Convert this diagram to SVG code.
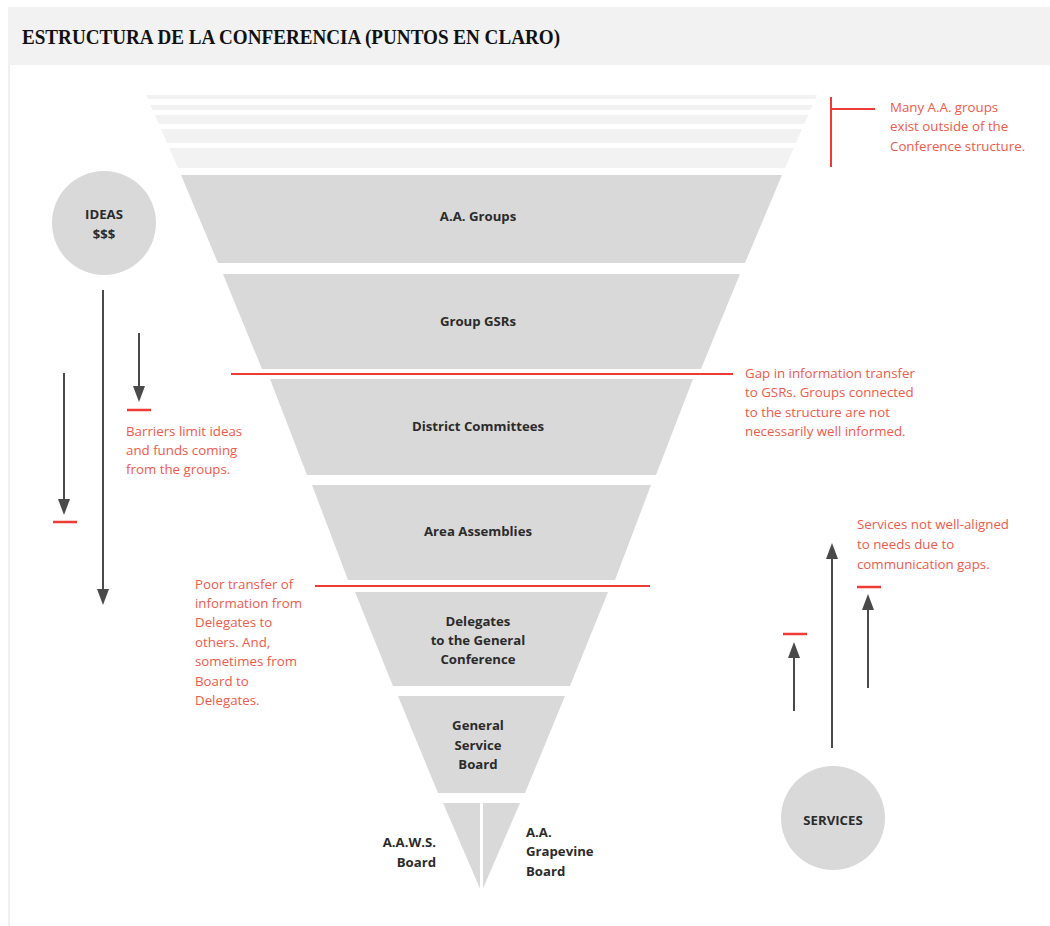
<svg xmlns="http://www.w3.org/2000/svg" width="1050" height="926" viewBox="0 0 1050 926">
<style>
.band{fill:#d9d9d9}
.stripe{fill:#f2f2f2}
.lbl{font-family:"Open Sans","Noto Sans","Liberation Sans",sans-serif;font-weight:bold;font-size:13.2px;fill:#2b2b2b;text-anchor:middle}
.note{font-family:"Open Sans","Noto Sans","Liberation Sans",sans-serif;font-size:13.3px;fill:#f15a4a}
.red{stroke:#ee3b33;stroke-width:2;fill:none}
.dash{stroke:#ee3b33;stroke-width:2.5;fill:none}
.arr{stroke:#4a4a4a;stroke-width:2;fill:none;marker-end:url(#ah)}
</style>
<defs>
<marker id="ah" viewBox="0 0 16 12" markerWidth="16" markerHeight="12" refX="6" refY="6" orient="auto" markerUnits="userSpaceOnUse">
<path d="M0,0 L16,6 L0,12 z" fill="#4a4a4a"/>
</marker>
</defs>
<rect width="1050" height="926" fill="#ffffff"/>
<rect x="8" y="7" width="1042" height="58" fill="#f2f2f2"/>
<rect x="8" y="65" width="2" height="861" fill="#f0f0f0"/>
<text x="22" y="44" font-family="'Liberation Serif',serif" font-weight="bold" font-size="20" fill="#111" textLength="538" lengthAdjust="spacingAndGlyphs">ESTRUCTURA DE LA CONFERENCIA (PUNTOS EN CLARO)</text>

<g id="outside-stripes">
<polygon class="stripe" points="146,95 817,95 815.2,99 147.8,99"/>
<polygon class="stripe" points="150.4,105 812.6,105 810.4,110 152.6,110"/>
<polygon class="stripe" points="154.8,115 808.2,115 804.2,124 158.8,124"/>
<polygon class="stripe" points="161,129 802,129 796,143 167,143"/>
<polygon class="stripe" points="169.3,148 793.7,148 785,168 178,168"/>
</g>

<g id="aa-groups">
<polygon class="band" points="181,175 782,175 745,263 218,263"/>
<text class="lbl" x="478" y="221">A.A. Groups</text>
</g>
<g id="group-gsrs">
<polygon class="band" points="223,274 740,274 701,369 262,369"/>
<text class="lbl" x="478" y="326">Group GSRs</text>
</g>
<g id="district-committees">
<polygon class="band" points="270,379 693,379 656,475 307,475"/>
<text class="lbl" x="478" y="431">District Committees</text>
</g>
<g id="area-assemblies">
<polygon class="band" points="312,485 651,485 615,580 348,580"/>
<text class="lbl" x="478" y="536">Area Assemblies</text>
</g>
<g id="delegates">
<polygon class="band" points="355,592 608,592 570,686 393,686"/>
<text class="lbl" x="478" y="626">Delegates</text>
<text class="lbl" x="478" y="645">to the General</text>
<text class="lbl" x="478" y="664">Conference</text>
</g>
<g id="general-service-board">
<polygon class="band" points="398,696 565,696 525,793 438,793"/>
<text class="lbl" x="478" y="730">General</text>
<text class="lbl" x="478" y="750">Service</text>
<text class="lbl" x="478" y="769">Board</text>
</g>
<g id="boards">
<polygon class="band" points="443,803 520,803 481.5,892"/>
<line x1="481.5" y1="803" x2="481.5" y2="893" stroke="#ffffff" stroke-width="3"/>
</g>
<g id="aaws-board">
<text class="lbl" x="436" y="847" style="text-anchor:end">A.A.W.S.</text>
<text class="lbl" x="436" y="867" style="text-anchor:end">Board</text>
</g>
<g id="grapevine-board">
<text class="lbl" x="526" y="837" style="text-anchor:start">A.A.</text>
<text class="lbl" x="526" y="856" style="text-anchor:start">Grapevine</text>
<text class="lbl" x="526" y="876" style="text-anchor:start">Board</text>
</g>

<g id="ideas">
<circle cx="104" cy="223" r="52" fill="#d9d9d9"/>
<text class="lbl" x="104" y="219">IDEAS</text>
<text class="lbl" x="104" y="239">$$$</text>
</g>
<g id="services">
<circle cx="833" cy="818" r="52" fill="#d9d9d9"/>
<text class="lbl" x="833" y="825">SERVICES</text>
</g>

<g id="connectors">
<line class="arr" x1="103" y1="290" x2="103" y2="595"/>
<line class="arr" x1="139" y1="333" x2="139" y2="392"/>
<line class="arr" x1="64" y1="373" x2="64" y2="505"/>
<line class="arr" x1="832" y1="748" x2="832" y2="553"/>
<line class="arr" x1="868" y1="688" x2="868" y2="604"/>
<line class="arr" x1="794" y1="711" x2="794" y2="652"/>
</g>

<g id="barriers">
<line class="red" x1="831" y1="97" x2="831" y2="167"/>
<line class="red" x1="831" y1="109" x2="875" y2="109"/>
<line class="red" x1="231" y1="374" x2="733" y2="374"/>
<line class="red" x1="315" y1="586" x2="650" y2="586"/>
<line class="dash" x1="127" y1="410" x2="151" y2="410"/>
<line class="dash" x1="53" y1="522" x2="77" y2="522"/>
<line class="dash" x1="857" y1="587" x2="881" y2="587"/>
<line class="dash" x1="783" y1="634" x2="807" y2="634"/>
</g>

<g id="notes">
<text class="note" x="890" y="112">Many A.A. groups</text>
<text class="note" x="890" y="131">exist outside of the</text>
<text class="note" x="890" y="151">Conference structure.</text>
<text class="note" x="745" y="378">Gap in information transfer</text>
<text class="note" x="745" y="397">to GSRs. Groups connected</text>
<text class="note" x="745" y="417">to the structure are not</text>
<text class="note" x="745" y="436">necessarily well informed.</text>
<text class="note" x="126" y="436">Barriers limit ideas</text>
<text class="note" x="126" y="455">and funds coming</text>
<text class="note" x="126" y="474">from the groups.</text>
<text class="note" x="195" y="589">Poor transfer of</text>
<text class="note" x="195" y="608">information from</text>
<text class="note" x="195" y="627">Delegates to</text>
<text class="note" x="195" y="647">others. And,</text>
<text class="note" x="195" y="666">sometimes from</text>
<text class="note" x="195" y="686">Board to</text>
<text class="note" x="195" y="705">Delegates.</text>
<text class="note" x="857" y="529">Services not well-aligned</text>
<text class="note" x="857" y="549">to needs due to</text>
<text class="note" x="857" y="569">communication gaps.</text>
</g>
</svg>
